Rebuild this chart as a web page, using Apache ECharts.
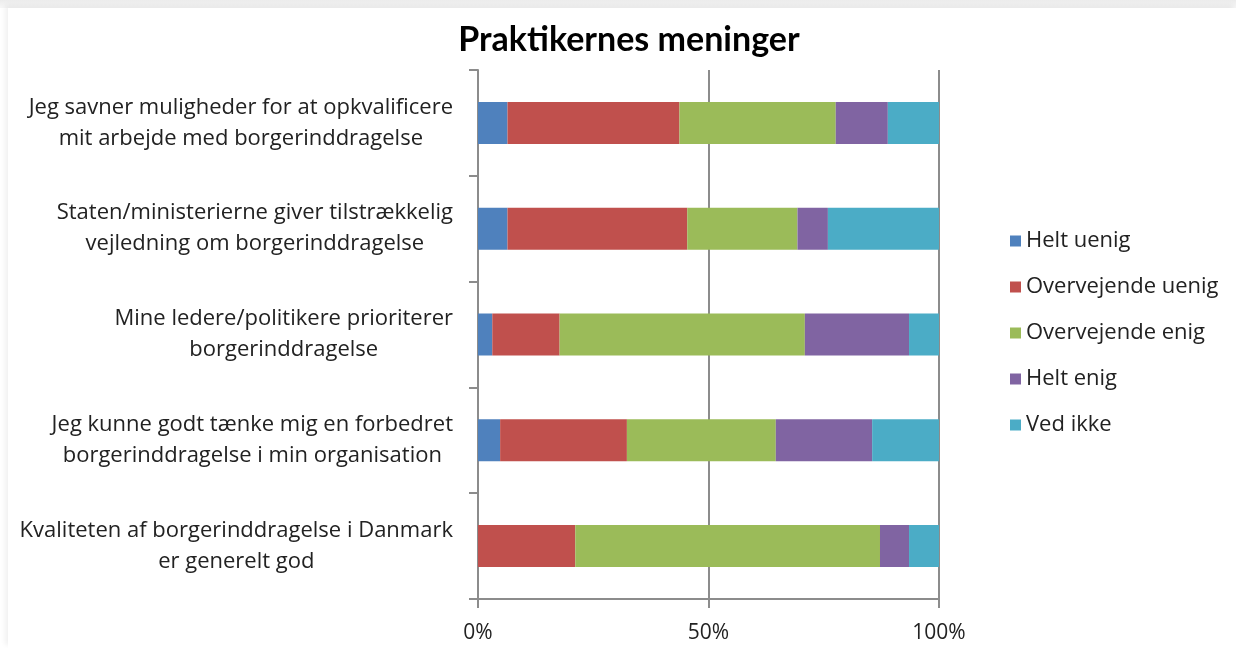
<!DOCTYPE html>
<html>
<head>
<meta charset="utf-8">
<script src="https://cdn.jsdelivr.net/npm/echarts@6/dist/echarts.min.js"></script>
<style>
    html, body { margin: 0; padding: 0; background: #fff; }
    #wrap {
        position: relative; width: 1236px; height: 648px;
        background: linear-gradient(to bottom, #ececec, #f7f7f7 8px, #fff 8px);
    }
    #chart {
        position: absolute; left: 8px; top: 8px; width: 1228px; height: 640px; background: #fff;
        box-shadow: -3px -3px 5px rgba(0,0,0,0.06);
    }
</style>
</head>
<body>
<div id="wrap"><div id="chart"></div></div>
<script>
// --- data ---
const categories = [
    'Jeg savner muligheder for at opkvalificere\nmit arbejde med borgerinddragelse',
    'Staten/ministerierne giver tilstrækkelig\nvejledning om borgerinddragelse',
    'Mine ledere/politikere prioriterer\nborgerinddragelse',
    'Jeg kunne godt tænke mig en forbedret\nborgerinddragelse i min organisation',
    'Kvaliteten af borgerinddragelse i Danmark\ner generelt god'
];
const seriesNames = ['Helt uenig', 'Overvejende uenig', 'Overvejende enig', 'Helt enig', 'Ved ikke'];
const heltUenig = [6.4, 6.4, 3.1, 4.8, 0];
const overvejendeUenig = [37.3, 39.0, 14.6, 27.5, 21.1];
const overvejendeEnig = [33.9, 23.9, 53.2, 32.3, 66.1];
const heltEnig = [11.3, 6.6, 22.6, 20.9, 6.3];
const vedIkke = [11.1, 24.1, 6.5, 14.5, 6.5];
const xTicks = [0, 50, 100];

const colors = ['#4f81bd', '#c0504d', '#9bbb59', '#8064a2', '#4bacc6'];
const font = '"Open Sans", sans-serif';

const chart = echarts.init(document.getElementById('chart'));

const seriesData = [heltUenig, overvejendeUenig, overvejendeEnig, heltEnig, vedIkke];

const option = {
    animation: false,
    color: colors,
    title: {
        text: 'Praktikernes meninger',
        left: 616, top: 10, textAlign: 'center',
        textStyle: { fontFamily: 'Lato, sans-serif', fontWeight: 'bold', fontSize: 34, color: '#000' }
    },
    legend: {
        orient: 'vertical',
        left: 997, top: 217,
        itemWidth: 11, itemHeight: 11, itemGap: 24,
        icon: 'rect',
        data: seriesNames,
        textStyle: { fontFamily: font, fontSize: 22, color: '#222' }
    },
    grid: { left: 470, right: 297, top: 62, bottom: 49 },
    xAxis: {
        type: 'value', min: 0, max: 100, interval: 50,
        axisLine: { show: true, lineStyle: { color: '#8c8c8c', width: 2 } },
        axisTick: { show: true, length: 9, lineStyle: { color: '#8c8c8c', width: 2 } },
        splitLine: { show: true, lineStyle: { color: '#8c8c8c', width: 2 } },
        axisLabel: {
            margin: 24,
            fontFamily: font, fontSize: 21, color: '#222',
            formatter: v => xTicks.includes(v) ? v + '%' : ''
        }
    },
    yAxis: {
        type: 'category', inverse: true, data: categories,
        axisLine: { show: true, lineStyle: { color: '#8c8c8c', width: 2 } },
        axisTick: { show: true, length: 9, lineStyle: { color: '#8c8c8c', width: 2 } },
        axisLabel: {
            margin: 25, align: 'right',
            formatter: v => v.split('\n').map(l => '{c|' + l + '}').join('\n'),
            rich: {
                c: { align: 'center', fontFamily: font, fontSize: 22, lineHeight: 31, color: '#222' }
            }
        }
    },
    series: seriesNames.map((name, i) => ({
        name: name,
        type: 'bar',
        stack: 'total',
        barWidth: 42,
        data: seriesData[i],
        itemStyle: { color: colors[i] }
    }))
};
chart.setOption(option);
</script>
</body>
</html>
